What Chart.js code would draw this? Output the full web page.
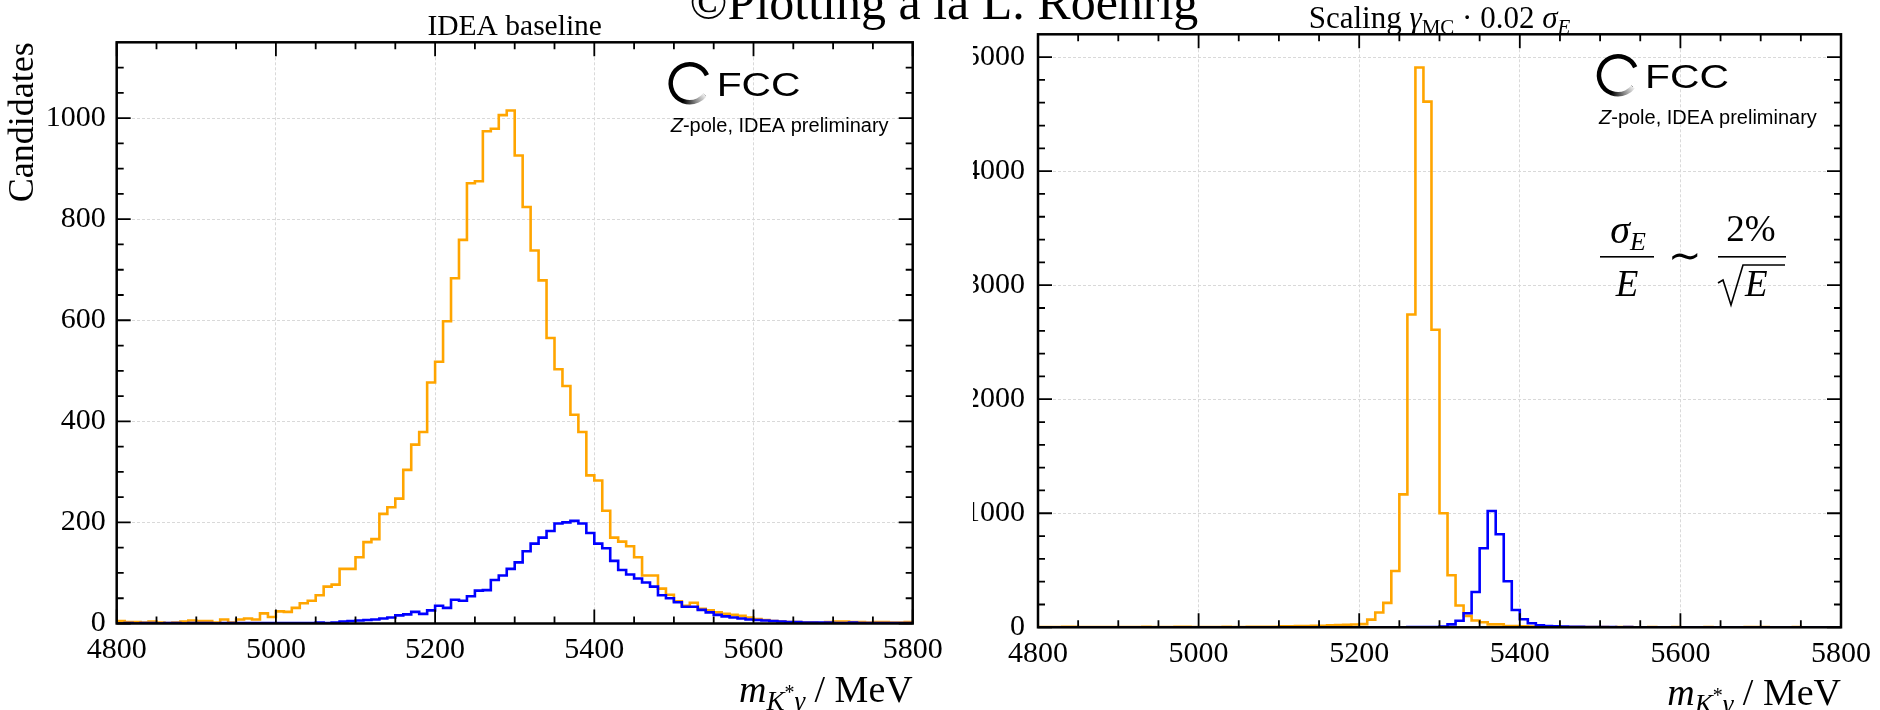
<!DOCTYPE html>
<html lang="en">
<head>
<meta charset="utf-8">
<title>m(K*γ) candidates</title>
<script src="https://cdn.jsdelivr.net/npm/chart.js@4.4.1/dist/chart.umd.min.js"></script>
<style>
  html, body { margin: 0; background: #fff; }
  body { position: relative; width: 1880px; height: 710px; overflow: hidden; }
  canvas { position: absolute; top: 0; }
  #left { left: 0; }
  #right { left: 960px; }
  #suptitle {
    position: absolute; left: 0; top: -23px; width: 1888px; text-align: center;
    font: 50px/50px "Liberation Serif", serif; color: #000; white-space: nowrap;
  }
</style>
</head>
<body>
<canvas id="left" width="960" height="710"></canvas>
<canvas id="right" width="920" height="710"></canvas>
<div id="suptitle">©Plotting à la L. Roehrig</div>
<script>
// 100 bins of 10 MeV from 4800 to 5800
const BIN_LOW = 4800;
const BIN_WIDTH = 10;

const xTickValues = [4800, 5000, 5200, 5400, 5600, 5800];
const baselineYTicks = [0, 200, 400, 600, 800, 1000];
const scaledYTicks = [0, 1000, 2000, 3000, 4000, 5000];

// IDEA baseline
const baselineOrange = [
  5, 3, 3, 2, 4, 2, 1, 2, 4, 6,
  5, 5, 2, 8, 2, 8, 10, 8, 20, 13,
  24, 23, 31, 40, 45, 56, 73, 77, 108, 108,
  131, 161, 167, 217, 230, 247, 304, 354, 379, 477,
  518, 598, 683, 759, 871, 875, 974, 979, 1006, 1015,
  926, 824, 738, 679, 565, 503, 470, 413, 379, 293,
  283, 223, 170, 162, 153, 131, 95, 95, 69, 57,
  44, 35, 41, 29, 26, 22, 19, 17, 15, 12,
  9, 7, 5, 4, 3, 3, 2, 2, 1, 3,
  4, 4, 3, 3, 2, 3, 3, 2, 2, 3
];
const baselineBlue = [
  0, 1, 0, 1, 1, 0, 1, 1, 0, 1,
  1, 1, 0, 1, 1, 1, 1, 1, 1, 1,
  1, 1, 1, 1, 1, 2, 1, 2, 4, 5,
  6, 7, 8, 10, 12, 16, 18, 23, 19, 26,
  35, 31, 47, 45, 54, 65, 66, 86, 95, 108,
  121, 143, 158, 170, 183, 198, 200, 203, 198, 179,
  158, 149, 124, 106, 97, 89, 81, 73, 56, 50,
  42, 33, 33, 27, 22, 17, 14, 12, 10, 8,
  7, 6, 5, 4, 3, 3, 2, 2, 2, 2,
  1, 1, 2, 1, 1, 1, 1, 1, 1, 1
];

// photon energy smeared with 0.02 sigma_E
const scaledOrange = [
  2, 3, 2, 4, 5, 3, 2, 2, 3, 2,
  3, 2, 3, 4, 2, 3, 3, 5, 4, 3,
  3, 2, 3, 4, 3, 3, 4, 5, 4, 5,
  8, 9, 10, 12, 14, 14, 18, 20, 22, 24,
  28, 67, 130, 214, 494, 1166, 2743, 4909, 4610, 2609,
  1000, 456, 191, 100, 60, 44, 26, 26, 12, 10,
  8, 6, 5, 4, 3, 3, 2, 2, 2, 2,
  2, 1, 2, 2, 1, 1, 2, 1, 1, 2,
  1, 1, 1, 2, 1, 1, 1, 1, 2, 3,
  2, 1, 1, 1, 3, 1, 1, 1, 1, 1
];
const scaledBlue = [
  0, 0, 1, 0, 0, 1, 0, 0, 0, 1,
  0, 0, 1, 0, 0, 0, 1, 0, 0, 0,
  1, 0, 0, 1, 0, 0, 1, 0, 0, 1,
  0, 1, 0, 1, 1, 0, 1, 1, 1, 1,
  1, 1, 1, 1, 1, 1, 2, 2, 3, 3,
  6, 26, 58, 123, 310, 693, 1020, 816, 404, 152,
  70, 35, 18, 12, 9, 6, 5, 4, 3, 3,
  2, 2, 1, 2, 1, 1, 1, 1, 1, 1,
  1, 1, 1, 1, 1, 0, 1, 1, 0, 1,
  1, 0, 1, 1, 0, 1, 0, 1, 1, 1
];

const SERIF = '"Liberation Serif", serif';
const SANS = '"Liberation Sans", sans-serif';
const deg = d => d * Math.PI / 180;

// outline of a step histogram: up from the baseline, across each bin, back down
const stepPoints = counts => {
  const end = BIN_LOW + counts.length * BIN_WIDTH;
  const pts = [{ x: BIN_LOW, y: 0 }];
  counts.forEach((c, i) => pts.push({ x: BIN_LOW + i * BIN_WIDTH, y: c }));
  pts.push({ x: end, y: counts[counts.length - 1] }, { x: end, y: 0 });
  return pts;
};

// a line of text made of runs, each with its own font and baseline shift
const drawRuns = (ctx, runs, x, y, align) => {
  let total = 0;
  const sized = runs.map(([text, font, dy = 0]) => {
    ctx.font = font;
    const w = ctx.measureText(text).width;
    total += w;
    return { text, font, dy, w };
  });
  let cx = align === 'center' ? x - total / 2 : align === 'right' ? x - total : x;
  ctx.textAlign = 'left';
  ctx.textBaseline = 'alphabetic';
  sized.forEach(r => {
    ctx.font = r.font;
    ctx.fillText(r.text, cx, y + r.dy);
    cx += r.w;
  });
};

const xLabelRuns = [
  ['m', `italic 38px ${SERIF}`],
  ['K', `italic 27px ${SERIF}`, 8],
  ['*', `20px ${SERIF}`, -3],
  ['γ', `italic 27px ${SERIF}`, 8],
  [' / ', `38px ${SERIF}`],
  ['MeV', `38px ${SERIF}`]
];

const drawLogo = (ctx, area) => {
  const left = area.right - 242;
  const cx = left + 19, cy = area.top + 41;
  ctx.save();
  let ringStyle = '#000';
  if (ctx.createConicGradient) {
    ringStyle = ctx.createConicGradient(deg(38), cx, cy);
    ringStyle.addColorStop(0, '#eeeeee');
    ringStyle.addColorStop(0.09, '#8a8a8a');
    ringStyle.addColorStop(0.2, '#000');
    ringStyle.addColorStop(1, '#000');
  }
  ctx.strokeStyle = ringStyle;
  ctx.lineWidth = 4.5;
  ctx.beginPath();
  ctx.arc(cx, cy, 19, deg(-25), deg(38), true);
  ctx.stroke();

  ctx.fillStyle = '#000';
  ctx.font = `34px ${SANS}`;
  ctx.textAlign = 'left';
  ctx.textBaseline = 'alphabetic';
  ctx.save();
  ctx.translate(left + 46, area.top + 54);
  ctx.scale(1.2, 1);
  ctx.fillText('FCC', 0, 0);
  ctx.restore();

  drawRuns(ctx, [['Z', `italic 20px ${SANS}`], ['-pole, IDEA preliminary', `20px ${SANS}`]],
    left, area.top + 90, 'left');
  ctx.restore();
};

// inward ticks on all four sides and the closed frame
const drawFrame = (chart, minorX, minorY) => {
  const { ctx, chartArea: a, scales: { x, y } } = chart;
  const between = (scale, step, majors) => {
    const out = [];
    for (let v = scale.min + step; v < scale.max; v += step) {
      if (!majors.includes(v)) out.push(v);
    }
    return out;
  };
  const xMarks = (values, len) => values.forEach(v => {
    const px = x.getPixelForValue(v);
    ctx.moveTo(px, a.bottom); ctx.lineTo(px, a.bottom - len);
    ctx.moveTo(px, a.top); ctx.lineTo(px, a.top + len);
  });
  const yMarks = (values, len) => values.forEach(v => {
    const py = y.getPixelForValue(v);
    ctx.moveTo(a.left, py); ctx.lineTo(a.left + len, py);
    ctx.moveTo(a.right, py); ctx.lineTo(a.right - len, py);
  });
  const majorX = x.ticks.map(t => t.value);
  const majorY = y.ticks.map(t => t.value);

  ctx.save();
  ctx.strokeStyle = '#000';
  ctx.lineWidth = 1.8;
  ctx.beginPath();
  xMarks(majorX, 14);
  xMarks(between(x, minorX, majorX), 7);
  yMarks(majorY, 14);
  yMarks(between(y, minorY, majorY), 7);
  ctx.stroke();
  ctx.lineWidth = 2.5;
  ctx.strokeRect(a.left, a.top, a.right - a.left, a.bottom - a.top);
  ctx.restore();
};

const tickFont = { family: SERIF, size: 30 };
const gridStyle = { color: '#d9d9d9', lineWidth: 1, drawTicks: false };

const makeChart = (canvas, cfg) => new Chart(canvas, {
  type: 'line',
  data: {
    datasets: [
      { data: stepPoints(cfg.blue), borderColor: '#0000ff' },
      { data: stepPoints(cfg.orange), borderColor: '#ffa500' }
    ].map(ds => ({
      ...ds,
      borderWidth: 2.6,
      stepped: true,
      tension: 0,
      pointRadius: 0,
      fill: false,
      borderJoinStyle: 'miter',
      borderCapStyle: 'butt'
    }))
  },
  options: {
    responsive: false,
    animation: false,
    devicePixelRatio: 1,
    events: [],
    layout: { padding: cfg.padding },
    plugins: { legend: { display: false }, tooltip: { enabled: false } },
    scales: {
      x: {
        type: 'linear',
        min: BIN_LOW,
        max: BIN_LOW + 100 * BIN_WIDTH,
        afterFit: s => { s.height = 60; },
        afterBuildTicks: s => { s.ticks = xTickValues.map(value => ({ value })); },
        ticks: {
          font: tickFont, color: '#000', padding: 9,
          maxRotation: 0, autoSkip: false, callback: v => String(v)
        },
        grid: gridStyle,
        border: { display: false, dash: [3, 2] }
      },
      y: {
        type: 'linear',
        min: 0,
        max: cfg.yMax,
        afterFit: s => { s.width = cfg.yWidth; },
        afterBuildTicks: s => { s.ticks = cfg.yTicks.map(value => ({ value })); },
        ticks: { font: tickFont, color: '#000', padding: cfg.yPad, callback: v => String(v) },
        grid: gridStyle,
        border: { display: false, dash: [3, 2] }
      }
    }
  },
  plugins: [{
    id: 'decor',
    afterDraw(chart) {
      const ctx = chart.ctx;
      const area = chart.chartArea;
      drawFrame(chart, cfg.minorX, cfg.minorY);
      ctx.save();
      ctx.fillStyle = '#000';
      drawRuns(ctx, xLabelRuns, area.right, area.bottom + 78, 'right');
      drawLogo(ctx, area);
      cfg.decorate(ctx, area);
      ctx.restore();
    }
  }]
});

makeChart(document.getElementById('left'), {
  orange: baselineOrange,
  blue: baselineBlue,
  yMax: 1150,
  yTicks: baselineYTicks,
  minorX: 50,
  minorY: 50,
  yWidth: 100,
  yPad: 11,
  padding: { left: 16.7, top: 42.3, right: 47.3, bottom: 26.5 },
  decorate: (ctx, area) => {
    drawRuns(ctx, [['IDEA baseline', `29.5px ${SERIF}`]], (area.left + area.right) / 2, area.top - 7, 'center');
    ctx.save();
    ctx.translate(33, area.top);
    ctx.rotate(-Math.PI / 2);
    ctx.font = `36px ${SERIF}`;
    ctx.textAlign = 'right';
    ctx.textBaseline = 'alphabetic';
    ctx.fillText('Candidates', 0, 0);
    ctx.restore();
  }
});

// the tick labels of this panel are cut on the left by the y scale box
makeChart(document.getElementById('right'), {
  orange: scaledOrange,
  blue: scaledBlue,
  yMax: 5200,
  yTicks: scaledYTicks,
  minorX: 50,
  minorY: 200,
  yWidth: 65,
  yPad: 13,
  padding: { left: 13, top: 34.3, right: 36, bottom: 22.7 },
  decorate: (ctx, area) => {
    drawRuns(ctx, [
      ['Scaling ', `31px ${SERIF}`],
      ['γ', `italic 31px ${SERIF}`],
      ['MC', `21px ${SERIF}`, 6],
      [' · 0.02 ', `31px ${SERIF}`],
      ['σ', `italic 31px ${SERIF}`],
      ['E', `italic 21px ${SERIF}`, 6]
    ], (area.left + area.right) / 2, area.top - 6, 'center');

    // sigma_E / E ~ 2% / sqrt(E), placed relative to the plot frame
    const ox = area.left - 73;
    const big = `italic 37px ${SERIF}`;
    ctx.save();
    drawRuns(ctx, [['σ', `italic 40px ${SERIF}`], ['E', `italic 26px ${SERIF}`, 7]], ox + 663, 243, 'center');
    ctx.fillRect(ox + 635, 256, 54, 1.6);
    drawRuns(ctx, [['E', big]], ox + 662, 296, 'center');
    drawRuns(ctx, [['∼', `40px ${SERIF}`]], ox + 720, 269, 'center');
    drawRuns(ctx, [['2%', `37px ${SERIF}`]], ox + 786, 241, 'center');
    ctx.fillRect(ox + 753, 256, 68, 1.6);
    ctx.lineWidth = 1.6;
    ctx.beginPath();
    ctx.moveTo(ox + 753, 283);
    ctx.lineTo(ox + 758, 280);
    ctx.lineTo(ox + 766, 305);
    ctx.lineTo(ox + 778, 265);
    ctx.lineTo(ox + 820, 265);
    ctx.stroke();
    drawRuns(ctx, [['E', big]], ox + 780, 296, 'left');
    ctx.restore();
  }
});
</script>
</body>
</html>
